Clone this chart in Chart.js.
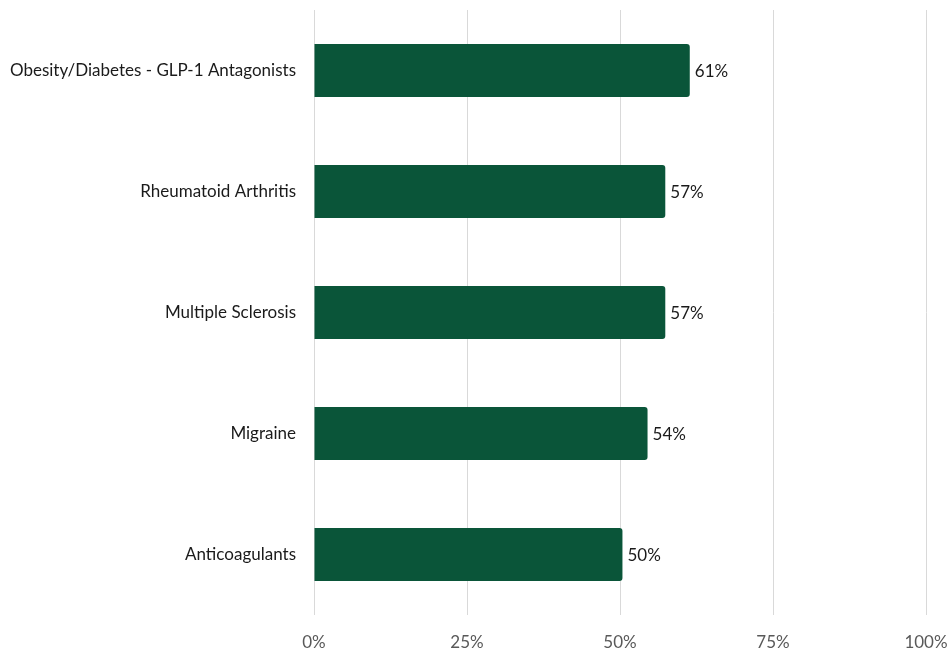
<!DOCTYPE html>
<html>
<head>
<meta charset="utf-8">
<script src="https://cdn.jsdelivr.net/npm/chart.js@4.4.0/dist/chart.umd.min.js"></script>
<style>
  html, body { margin: 0; padding: 0; background: #fff; }
  #wrap { width: 951px; height: 654px; }
</style>
</head>
<body>
<div id="wrap"><canvas id="chart"></canvas></div>
<script>
const categories = ['Obesity/Diabetes - GLP-1 Antagonists', 'Rheumatoid Arthritis', 'Multiple Sclerosis', 'Migraine', 'Anticoagulants'];
const values = [61.4, 57.4, 57.4, 54.5, 50.4];
const valueLabels = ['61%', '57%', '57%', '54%', '50%'];
const xTicks = [0, 25, 50, 75, 100];

const fontFamily = 'Lato, "Open Sans", sans-serif';

// value label at the end of each bar
const barLabels = {
  id: 'barLabels',
  afterDatasetsDraw(chart) {
    const ctx = chart.ctx;
    const meta = chart.getDatasetMeta(0);
    ctx.save();
    ctx.font = '17px ' + fontFamily;
    ctx.fillStyle = '#1a1a1a';
    ctx.textAlign = 'left';
    ctx.textBaseline = 'middle';
    meta.data.forEach(function (bar, i) {
      ctx.fillText(valueLabels[i], bar.x + 5, bar.y + 1);
    });
    ctx.restore();
  }
};

new Chart(document.getElementById('chart'), {
  type: 'bar',
  data: {
    labels: categories,
    datasets: [{
      data: values,
      backgroundColor: '#0a5539',
      borderRadius: 3,
      categoryPercentage: 1,
      barPercentage: 0.44
    }]
  },
  options: {
    indexAxis: 'y',
    responsive: true,
    maintainAspectRatio: false,
    animation: false,
    layout: { padding: 0 },
    plugins: {
      legend: { display: false },
      tooltip: { enabled: false }
    },
    scales: {
      x: {
        min: 0,
        max: 100,
        afterBuildTicks(axis) {
          axis.ticks = xTicks.map(v => ({ value: v }));
        },
        afterFit(axis) {
          axis.height = 39;
          axis.paddingLeft = 0;
          axis.paddingRight = 25;
        },
        border: { display: false },
        grid: { color: '#d9d9d9', lineWidth: 1, drawTicks: false },
        ticks: {
          padding: 17,
          color: '#595959',
          font: { family: fontFamily, size: 17 },
          callback: v => v + '%'
        }
      },
      y: {
        afterFit(axis) {
          axis.width = 314;
          axis.paddingTop = 10;
          axis.paddingBottom = 0;
        },
        border: { display: false },
        grid: { display: false, drawTicks: false },
        ticks: {
          padding: 18,
          color: '#1a1a1a',
          font: { family: fontFamily, size: 17 }
        }
      }
    }
  },
  plugins: [barLabels]
});
</script>
</body>
</html>
